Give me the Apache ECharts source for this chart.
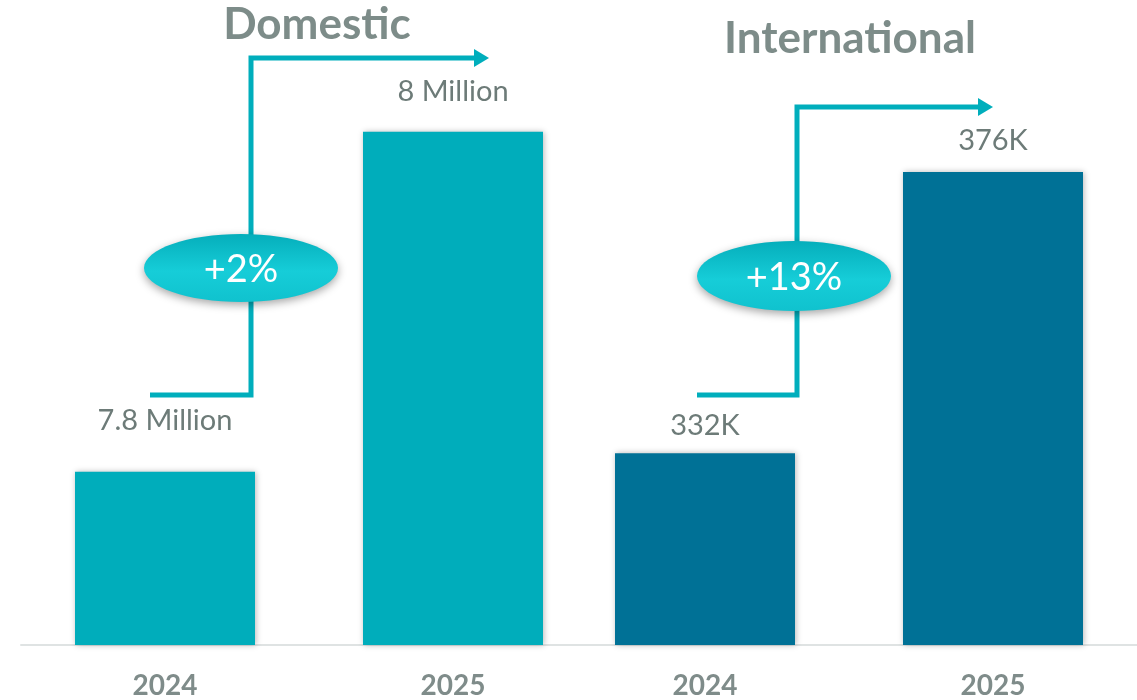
<!DOCTYPE html>
<html lang="en">
<head>
    <meta charset="UTF-8">
    <title>Domestic vs International</title>
    <style>
        html, body {
            margin: 0;
            height: 100%;
            background: #fff;
        }
        #main {
            width: 1137px;
            height: 700px;
        }
    </style>
    <script src="https://cdn.jsdelivr.net/npm/echarts@6/dist/echarts.min.js"></script>
</head>
<body>
    <div id="main"></div>
    <script>
        const chart = echarts.init(document.getElementById('main'))

        // data
        const years = ['2024', '2025']
        const domesticValues = [7.8, 8.0]          // millions
        const domesticLabels = ['7.8 Million', '8 Million']
        const intlValues = [332, 376]              // thousands
        const intlLabels = ['332K', '376K']
        const groupTitles = ['Domestic', 'International']
        const growthLabels = ['+2%', '+13%']

        const teal = '#00adbb'
        const navy = '#007196'
        const arrowColor = '#00aebc'
        const greyTitle = '#7d8c89'
        const greyText = '#6d7b78'
        const font = 'Lato, "Open Sans", sans-serif'

        const barShadow = {
            shadowBlur: 6,
            shadowColor: 'rgba(0,0,0,0.28)',
            shadowOffsetX: 1
        }

        function xAxis (gridIndex) {
            return {
                type: 'category',
                gridIndex,
                data: years,
                axisTick: { show: false },
                axisLine: { lineStyle: { color: '#dfe3e3', width: 2 } },
                axisLabel: {
                    color: '#7f8c8a',
                    fontFamily: font,
                    fontWeight: 'bold',
                    fontSize: 28,
                    margin: 27
                }
            }
        }

        function yAxis (gridIndex, min, max) {
            return {
                type: 'value',
                gridIndex,
                min,
                max,
                show: false,
                splitLine: { show: false }
            }
        }

        // label distance above each bar (px), so they sit like the original
        const domDist = [38, 27]
        const intlDist = [15, 18]

        function barData (values, labels, dists) {
            return values.map((v, i) => ({
                value: v,
                label: { formatter: labels[i], distance: dists[i] }
            }))
        }

        const labelStyle = {
            show: true,
            position: 'top',
            color: greyText,
            fontFamily: font,
            fontSize: 29,
            lineHeight: 26
        }

        // arrow + ellipse helpers (decoration)
        function arrow (pts, head) {
            return [
                {
                    type: 'polyline',
                    z: 10,
                    shape: { points: pts },
                    style: { stroke: arrowColor, lineWidth: 5, fill: null }
                },
                {
                    type: 'polygon',
                    z: 10,
                    shape: { points: head },
                    style: { fill: arrowColor }
                }
            ]
        }

        function badge (cx, cy, rx, ry, text) {
            return [
                {
                    type: 'ellipse',
                    z: 20,
                    shape: { cx, cy, rx, ry },
                    style: {
                        fill: new echarts.graphic.LinearGradient(0, 0, 0, 1, [
                            { offset: 0, color: '#05aebb' },
                            { offset: 0.55, color: '#16cdd8' },
                            { offset: 1, color: '#10c2ce' }
                        ]),
                        shadowBlur: 8,
                        shadowOffsetY: 3,
                        shadowColor: 'rgba(0,0,0,0.35)'
                    }
                },
                {
                    type: 'text',
                    z: 21,
                    x: cx,
                    y: cy + 2,
                    style: {
                        text,
                        fill: '#fff',
                        font: '38px ' + font,
                        align: 'center',
                        verticalAlign: 'middle'
                    }
                }
            ]
        }

        const option = {
            animation: false,
            grid: [
                { left: 21, width: 576, top: 40, bottom: 55 },
                { left: 561, width: 578, top: 40, bottom: 55 }
            ],
            xAxis: [xAxis(0), xAxis(1)],
            yAxis: [yAxis(0, 7.698, 8.054), yAxis(1, 302, 396.65)],
            series: [
                {
                    type: 'bar',
                    xAxisIndex: 0,
                    yAxisIndex: 0,
                    barWidth: 180,
                    itemStyle: Object.assign({ color: teal }, barShadow),
                    label: labelStyle,
                    data: barData(domesticValues, domesticLabels, domDist)
                },
                {
                    type: 'bar',
                    xAxisIndex: 1,
                    yAxisIndex: 1,
                    barWidth: 180,
                    itemStyle: Object.assign({ color: navy }, barShadow),
                    label: labelStyle,
                    data: barData(intlValues, intlLabels, intlDist)
                }
            ],
            graphic: [
                {
                    type: 'text',
                    x: 317,
                    y: 25,
                    style: {
                        text: groupTitles[0],
                        fill: greyTitle,
                        font: 'bold 44px ' + font,
                        align: 'center',
                        verticalAlign: 'middle'
                    }
                },
                {
                    type: 'text',
                    x: 850,
                    y: 39,
                    style: {
                        text: groupTitles[1],
                        fill: greyTitle,
                        font: 'bold 44px ' + font,
                        align: 'center',
                        verticalAlign: 'middle'
                    }
                },
                ...arrow(
                    [[150, 395], [251, 395], [251, 58], [476, 58]],
                    [[474, 49], [489, 58], [474, 67]]
                ),
                ...arrow(
                    [[697, 395], [797, 395], [797, 107], [980, 107]],
                    [[978, 98], [993, 107], [978, 116]]
                ),
                ...badge(241, 268, 97, 34, growthLabels[0]),
                ...badge(794, 276, 97, 35, growthLabels[1])
            ]
        }

        chart.setOption(option)
    </script>
</body>
</html>
